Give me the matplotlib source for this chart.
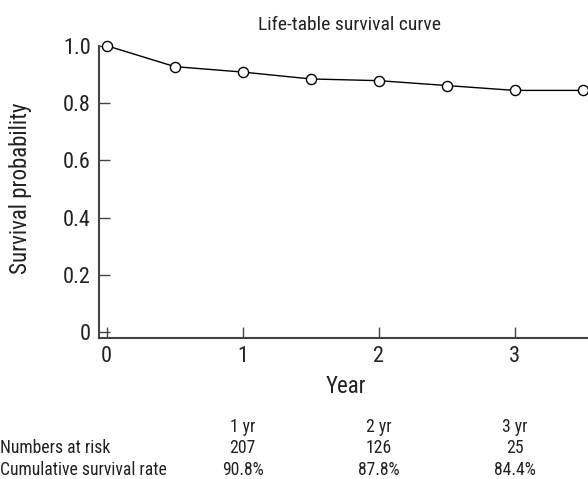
import matplotlib
matplotlib.use("Agg")
import matplotlib.pyplot as plt
from matplotlib import font_manager

names = {f.name for f in font_manager.fontManager.ttflist}
prefs = ['Nimbus Sans Narrow', 'Liberation Sans Narrow', 'Roboto Condensed', 'PT Sans Narrow',
         'Archivo Narrow', 'Pragati Narrow', 'Barlow Semi Condensed', 'Liberation Sans']
fam = [p for p in prefs if p in names][:1] or ['Liberation Sans']
plt.rcParams['font.family'] = fam + ['DejaVu Sans']

years = [0, 0.5, 1, 1.5, 2, 2.5, 3, 3.5]
survival = [1.0, 0.927, 0.908, 0.884, 0.878, 0.861, 0.844, 0.844]
yticks = [0, 0.2, 0.4, 0.6, 0.8, 1.0]
ytick_labels = ['0', '0.2', '0.4', '0.6', '0.8', '1.0']
xticks = [0, 1, 2, 3]
table_years = [1, 2, 3]
table_headers = ['1 yr', '2 yr', '3 yr']
at_risk = ['207', '126', '25']
cum_rate = ['90.8%', '87.8%', '84.4%']
row_labels = ['Numbers at risk', 'Cumulative survival rate']

W, H = 588, 479
fig = plt.figure(figsize=(W / 100, H / 100), dpi=100)
left, right, top, bottom = 99, 588, 45.7, 337.7
ax = fig.add_axes([left / W, 1 - bottom / H, (right - left) / W, (bottom - top) / H])

ax.plot(years, survival, color='black', lw=1.0, marker='o', ms=7.3,
        mfc='white', mec='black', mew=1.0, clip_on=False, zorder=3)

ax.set_xlim(-0.057, 3.54)
ax.set_ylim(-0.019, 1.0)
ax.set_xticks(xticks)
ax.set_yticks(yticks)
ax.set_yticklabels(ytick_labels)
for s in ['top', 'right']:
    ax.spines[s].set_visible(False)
for s in ['left', 'bottom']:
    ax.spines[s].set_color('#444444')
    ax.spines[s].set_linewidth(1.5)
ax.tick_params(direction='in', length=8, width=1, color='#444444',
               labelsize=16, pad=6, labelcolor='#222222')

ax.set_xlabel('Year', fontsize=16.5, color='#222222')
ax.xaxis.set_label_coords(0.5 - (343.5 - 346) / (right - left), 1 - (386.7 - top) / (bottom - top))
ax.xaxis.label.set_va('center')
ax.set_ylabel('Survival probability', fontsize=16.5, color='#222222')
ax.yaxis.label.set_va('center')
ax.yaxis.label.set_ha('center')
ax.yaxis.set_label_coords(-(left - 21) / (right - left), 1 - (188 - top) / (bottom - top))

fig.text(350 / W, 1 - 25 / H, 'Life-table survival curve', ha='center', va='center',
         fontsize=14, color='#222222')

trans = ax.get_xaxis_transform()
rows_y = [426.7, 448.3, 470.0]
for xv, h, r, c in zip(table_years, table_headers, at_risk, cum_rate):
    for yy, t in zip(rows_y, [h, r, c]):
        ax.text(xv, 1 - (yy - top) / (bottom - top), t, transform=trans,
                ha='center', va='center', fontsize=12.7, color='#222222', clip_on=False)
for yy, t in zip(rows_y[1:], row_labels):
    fig.text(0.0, 1 - yy / H, t, ha='left', va='center', fontsize=12.7, color='#222222')

fig.savefig('out.png', dpi=100)
